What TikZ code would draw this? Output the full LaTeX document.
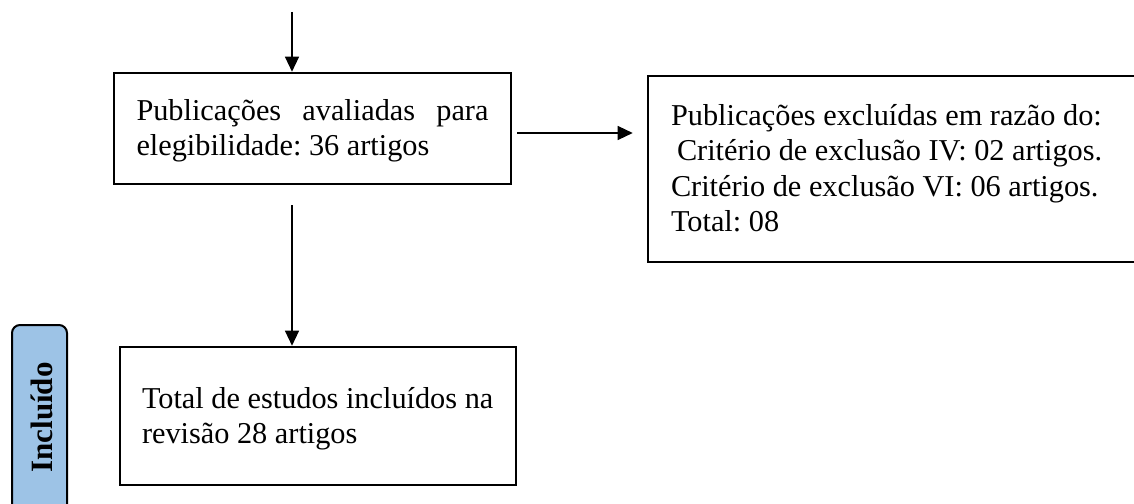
\documentclass[tikz,border=0pt]{standalone}
\usepackage{fontspec}
\setmainfont{Liberation Serif}
\usetikzlibrary{arrows.meta}
\definecolor{inclblue}{HTML}{9DC3E6}
\begin{document}
\frenchspacing
\begin{tikzpicture}[x=1pt,y=-1pt,
  box/.style={draw=black, line width=2.6pt, inner sep=0pt, font=\fontsize{30.3}{35}\selectfont},
  arr/.style={draw=black, line width=1.3pt, -{Triangle[length=15pt,width=14pt]}},
  sidebox/.style={draw=black, line width=2pt, fill=inclblue, rounded corners=8pt, inner sep=0pt},
  sidetext/.style={rotate=90, inner sep=0pt, font=\bfseries\fontsize{31}{31}\selectfont}]
\useasboundingbox (0,0) rectangle (1134,503);
\clip (0,0) rectangle (1134,503);

% boxes
\node[box, minimum width=397pt, minimum height=111pt, text width=352pt, align=justify] (b1) at (312.5,128.5)
  {\rule{0pt}{28pt}Publicações avaliadas para\linebreak elegibilidade: 36 artigos\rule[-10pt]{0pt}{10pt}};
\node[box, minimum width=502pt, minimum height=186pt, text width=456pt, align=flush left, font=\fontsize{30.3}{35.5}\selectfont] (b2) at (899,169)
  {\rule{0pt}{28.5pt}Publicações excluídas em razão do:\\\hspace*{6pt}Critério de exclusão IV: 02 artigos.\\Critério de exclusão VI: 06 artigos.\\Total: 08\rule[-10pt]{0pt}{10pt}};
\node[box, minimum width=396pt, minimum height=138pt, text width=352pt, align=flush left] (b3) at (318,416)
  {\rule{0pt}{29pt}\mbox{Total de estudos incluídos na}\\revisão 28 artigos\rule[-10pt]{0pt}{10pt}};

% side label
\node[sidebox, minimum width=55pt, minimum height=215pt] (inclbox) at (39.5,432.5) {};
\node[sidetext] (incl) at (41.5,417.5) {Incluído};

% connectors
\coordinate (top) at (292,12);
\draw[arr] (top) -- (top |- b1.north);
\coordinate (down) at ([yshift=-20pt]top |- b1.south);
\draw[arr] (down) -- (down |- b3.north);
\coordinate (h1) at ([xshift=5pt,yshift=-4.5pt]b1.east);
\coordinate (h2) at ([xshift=-14pt]h1 -| b2.west);
\draw[arr] (h1) -- (h2);
\end{tikzpicture}
\end{document}
